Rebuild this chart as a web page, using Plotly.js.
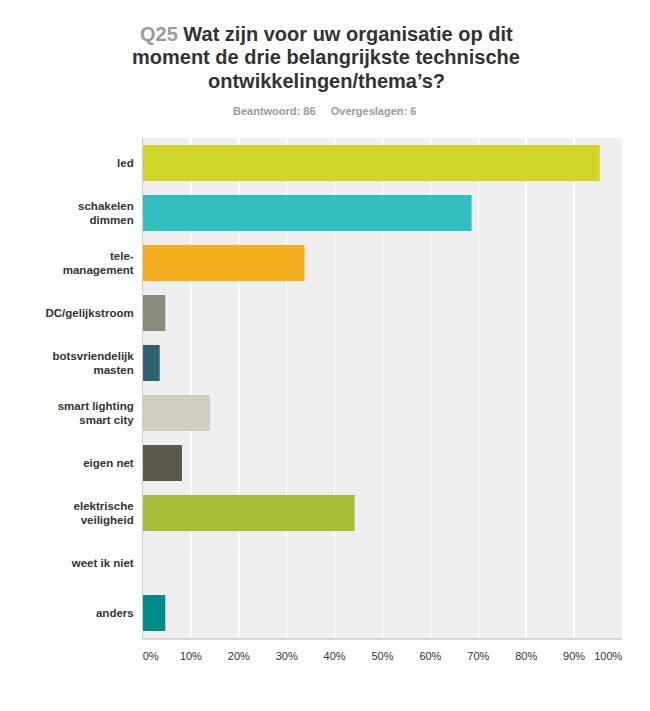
<!DOCTYPE html>
<html>
<head>
<meta charset="utf-8">
<script src="https://cdn.plot.ly/plotly-3.0.1.min.js"></script>
<style>
  html, body { margin: 0; padding: 0; background: #fff; }
  #chart { width: 650px; height: 711px; }
</style>
</head>
<body>
<div id="chart"></div>
<script>
// --- data (86 respondents) ---
const categorieen = [
  'led', 'schakelen<br>dimmen', 'tele-<br>management', 'DC/gelijkstroom',
  'botsvriendelijk<br>masten', 'smart lighting<br>smart city', 'eigen net',
  'elektrische<br>veiligheid', 'weet ik niet', 'anders'
];
const percentages = [95.35, 68.60, 33.72, 4.65, 3.49, 13.95, 8.14, 44.19, 0, 4.65];
const tickWaarden = [0, 10, 20, 30, 40, 50, 60, 70, 80, 90, 100];
const tickLabels = ['0%', '10%', '20%', '30%', '40%', '50%', '60%', '70%', '80%', '90%', '100%'];
const titelRegels = [
  '<span style="color:#9b9b9b">Q25</span> Wat zijn voor uw organisatie op dit',
  'moment de drie belangrijkste technische',
  'ontwikkelingen/thema’s?'
];
const beantwoord = 86;
const overgeslagen = 6;

// kleuren per balk
const kleuren = ['#d0d629', '#33bec0', '#f6ae21', '#8b8b7b', '#2f6171',
                 '#d1cfc0', '#5b5a4a', '#a9bc3a', '#999999', '#008b8b'];

const lettertype = "'Liberation Sans', Arial, Helvetica, sans-serif";

// eerste en laatste label binnen de plot schuiven, zoals in het origineel
const nb = n => '\u00a0'.repeat(n);
const tickTekst = tickLabels.map((t, i) =>
  i === 0 ? nb(5) + t : (i === tickLabels.length - 1 ? t + nb(9) : t));

const trace = [{
  type: 'bar',
  orientation: 'h',
  y: categorieen,
  x: percentages,
  marker: { color: kleuren, line: { width: 0 } },
  hoverinfo: 'none'
}];

// titel als losse regels zodat de regelafstand klopt
const annotaties = titelRegels.map((t, i) => ({
  text: t,
  xref: 'paper', yref: 'paper',
  x: 0.383, y: 1 + (138 - (34 + i * 23.5)) / 500,
  xanchor: 'center', yanchor: 'middle',
  showarrow: false,
  font: { family: lettertype, size: 20, color: '#333333', weight: 'bold' }
}));
annotaties.push({
  text: '<b>Beantwoord: ' + beantwoord + '&nbsp;&nbsp;&nbsp;&nbsp;&nbsp;Overgeslagen: ' + overgeslagen + '</b>',
  xref: 'paper', yref: 'paper',
  x: 0.378, y: 1 + (138 - 111) / 500,
  xanchor: 'center', yanchor: 'middle',
  showarrow: false,
  font: { family: lettertype, size: 11, color: '#9b9b9b' }
});

const layout = {
  width: 650,
  height: 711,
  margin: { l: 143, r: 28, t: 138, b: 73, pad: 0 },
  paper_bgcolor: '#ffffff',
  plot_bgcolor: '#efefef',
  font: { family: lettertype, size: 11, color: '#333333' },
  showlegend: false,
  bargap: 0.28,
  xaxis: {
    range: [0, 100],
    fixedrange: true,
    tickvals: tickWaarden,
    ticktext: tickTekst,
    ticks: 'outside', ticklen: 7, tickcolor: 'rgba(0,0,0,0)',
    showgrid: true, gridcolor: '#ffffff', gridwidth: 1.5,
    zeroline: false,
    showline: true, linecolor: '#d6d6d6', linewidth: 2,
    tickfont: { family: lettertype, size: 11, color: '#333333' }
  },
  yaxis: {
    autorange: 'reversed',
    fixedrange: true,
    ticks: 'outside', ticklen: 6, tickcolor: 'rgba(0,0,0,0)',
    showgrid: false,
    zeroline: false,
    showline: true, linecolor: '#cfcfcf', linewidth: 1,
    tickfont: { family: lettertype, size: 11.5, color: '#333333', weight: 'bold' }
  },
  annotations: annotaties
};

Plotly.newPlot('chart', trace, layout, { displayModeBar: false, staticPlot: true });
</script>
</body>
</html>
